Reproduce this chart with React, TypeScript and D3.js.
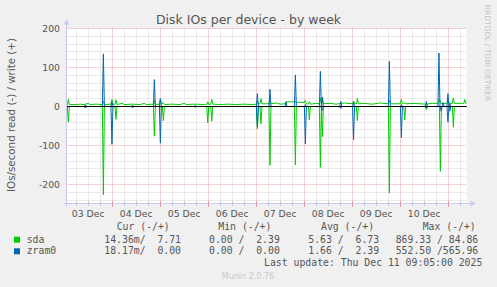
import React from "react";
import * as d3 from "d3";

const title = "Disk IOs per device - by week";
const yAxisTitle = "IOs/second read (-) / write (+)";
const sideText = "RRDTOOL / TOBI OETIKER";
const yTickValues = [-200, -100, 0, 100, 200];
const dayLabels = ["03 Dec", "04 Dec", "05 Dec", "06 Dec", "07 Dec", "08 Dec", "09 Dec", "10 Dec"];

// hours since Dec 3 00:00
const timeDomain = [1.17, 201.17];
const valueDomain = [-248.7, 200];

const sdaWrite: [number, number][] = [
  [1.2, 6], [1.6, 4], [2.1, 18], [2.6, 5], [6, 5], [8, 6], [10, 5], [12, 8], [13, 5], [16, 6], [19.1, 5], [19.6, 14], [20.1, 5],
  [23.4, 6], [23.9, 18], [24.4, 6], [25.4, 5], [25.9, 17], [26.4, 5], [29, 8], [30, 5], [34, 6], [38, 5], [40, 8], [41, 5],
  [44.6, 6], [45.1, 15], [45.6, 5], [47.6, 6], [48.1, 20], [48.6, 6], [49.6, 10], [50.1, 5], [54, 6], [58, 5], [60, 8], [61, 5],
  [65, 6], [70, 5], [71.3, 6], [71.8, 12], [72.3, 5], [73.3, 6], [73.8, 18], [74.3, 6], [78, 5], [82, 6], [86, 5], [90, 6], [94, 5],
  [96.1, 6], [96.6, 14], [97.1, 6], [97.9, 7], [98.4, 20], [98.9, 7], [102.4, 7], [102.9, 15], [103.4, 7], [106, 9], [108, 6],
  [110.4, 7], [110.9, 12], [115.1, 12], [115.6, 14], [116.1, 10], [118, 11], [120.1, 10], [120.6, 16], [121.1, 7], [122.1, 6],
  [122.6, 12], [123.1, 6], [126, 8], [127.6, 7], [128.1, 20], [128.6, 8], [129.1, 24], [129.6, 7], [133, 8], [136, 6], [140, 9],
  [144.2, 7], [144.7, 14], [145.2, 7], [146.1, 7], [146.6, 21], [147.1, 7], [150, 8], [154, 6], [158, 9], [162.1, 7], [162.6, 16],
  [163.1, 7], [168.1, 7], [168.6, 18], [169.1, 7], [169.8, 7], [170.3, 10], [170.8, 7], [175, 8], [178, 7], [181, 6], [184, 8],
  [186.9, 8], [187.4, 18], [187.9, 16], [188.4, 8], [191.4, 8], [191.9, 15], [192.4, 9], [194.1, 8], [194.6, 22], [195.1, 8],
  [198, 8], [199.8, 8], [200.3, 18], [200.8, 8], [201.2, 8],
];

const sdaRead: [number, number][] = [
  [1.2, 0], [1.6, 0], [2.1, 40], [2.6, 0], [19.1, 0], [19.6, 226], [20.1, 0], [25.4, 0], [25.9, 33], [26.4, 0], [44.6, 0],
  [45.1, 76], [45.6, 0], [49.1, 0], [49.6, 36], [50.1, 0], [71.3, 0], [71.8, 42], [72.3, 0], [73.3, 0], [73.8, 38], [74.3, 0],
  [96.1, 0], [96.6, 57], [97.1, 0], [97.9, 0], [98.4, 44], [98.9, 0], [102.4, 0], [102.9, 151], [103.4, 0], [115.1, 0],
  [115.6, 150], [116.1, 0], [122.1, 0], [122.6, 34], [123.1, 0], [127.6, 0], [128.1, 156], [128.6, 0], [129.1, 77], [129.6, 0],
  [146.1, 0], [146.6, 36], [147.1, 0], [162.1, 0], [162.6, 222], [163.1, 0], [169.8, 0], [170.3, 34], [170.8, 0], [180.6, 0],
  [181.1, 8], [181.6, 0], [187.6, 0], [188.1, 166], [188.6, 0], [194.1, 0], [194.6, 53], [195.1, 0], [201.2, 0],
];

const zramWrite: [number, number][] = [
  [1.2, 0], [10.1, 0], [10.6, 4], [11.1, 0], [19.1, 0], [19.6, 135], [20.1, 0], [23.4, 0], [23.9, 12], [24.4, 0], [33.8, 0],
  [34.3, 3], [34.8, 0], [44.6, 0], [45.1, 69], [45.6, 0], [47.6, 0], [48.1, 20], [48.6, 0], [64.9, 0], [65.4, 3], [65.9, 0],
  [96.1, 0], [96.6, 33], [97.1, 0], [102.4, 0], [102.9, 44], [103.4, 0], [110.4, 0], [110.9, 12], [111.4, 0], [115.1, 0],
  [115.6, 81], [116.1, 0], [120.1, 0], [120.6, 5], [121.1, 0], [127.6, 0], [128.1, 90], [128.6, 0], [129.1, 24], [129.6, 0],
  [137.8, 0], [138.3, 13], [138.8, 0], [144.2, 0], [144.7, 12], [145.2, 0], [162.1, 0], [162.6, 116], [163.1, 0], [168.1, 0],
  [168.6, 5], [169.1, 0], [180.6, 0], [181.1, 13], [181.6, 0], [186.9, 0], [187.4, 137], [187.9, 0], [189, 0], [189.5, 10],
  [190, 0], [191.4, 0], [191.9, 33], [192.4, 0], [192.8, 8], [193.3, 0], [201.2, 0],
];

const zramRead: [number, number][] = [
  [1.2, 0], [10.1, 0], [10.6, 4], [11.1, 0], [23.4, 0], [23.9, 97], [24.4, 0], [33.8, 0], [34.3, 3], [34.8, 0], [47.6, 0],
  [48.1, 94], [48.6, 0], [64.9, 0], [65.4, 2], [65.9, 0], [96.1, 0], [96.6, 51], [97.1, 0], [120.1, 0], [120.6, 96], [121.1, 0],
  [128.6, 0], [129.1, 10], [129.6, 0], [137.8, 0], [138.3, 5], [138.8, 0], [144.2, 0], [144.7, 85], [145.2, 0], [168.1, 0],
  [168.6, 80], [169.1, 0], [180.6, 0], [181.1, 4], [181.6, 0], [188, 0], [188.5, 12], [189, 0], [191.4, 0], [191.9, 40],
  [192.4, 0], [192.8, 12], [193.3, 0], [201.2, 0],
];

const legendNames = ["sda", "zram0"];
const legendColors = ["#00cc00", "#0066b3"];
const legendHeaders = ["Cur (-/+)", "Min (-/+)", "Avg (-/+)", "Max (-/+)"];
const legendCur = ["14.36m/  7.71", "18.17m/  0.00"];
const legendMin = ["0.00 /  2.39", "0.00 /  0.00"];
const legendAvg = ["5.63 /  6.73", "1.66 /  2.39"];
const legendMax = ["869.33 / 84.86", "552.50 /565.96"];
const lastUpdate = "Last update: Thu Dec 11 09:05:00 2025";
const version = "Munin 2.0.76";

export default function App() {
  const W = 497, H = 287;
  const left = 66.5, right = 466.5, top = 28.5, bottom = 203.5;
  const x = d3.scaleLinear().domain(timeDomain).range([left, right]);
  const y = d3.scaleLinear().domain(valueDomain).range([bottom, top]);
  const snap = (v: number) => Math.floor(v) + 0.5;

  const up = d3.line<[number, number]>().x((d) => x(d[0])).y((d) => y(d[1]));
  const down = d3.line<[number, number]>().x((d) => x(d[0])).y((d) => y(-d[1]));

  const minorH = d3.range(-240, 201, 20);
  const minorV = d3.range(6, 201, 6).filter((h) => h % 24 !== 0);
  const majorV = d3.range(24, 201, 24);

  const sans = "'DejaVu Sans', sans-serif";
  const mono = "'DejaVu Sans Mono', monospace";
  const txt = "#555";
  const axisCol = "#c8c8f0";

  const colX = [104.3, 209, 308.3, 395.7];
  const headX = [116.7, 218.3, 321, 422.7];
  const rowY = [242.7, 254.3];

  return (
    <svg width={W} height={H} style={{ position: "absolute", left: 0, top: 0 }} xmlns="http://www.w3.org/2000/svg">
      <rect x={0} y={0} width={W} height={H} fill="#f0f0f0" />
      <rect x={left} y={top} width={right - left} height={bottom - top} fill="#ffffff" />
      <defs>
        <clipPath id="plot">
          <rect x={left} y={top - 1} width={right - left + 1} height={bottom - top + 1} />
        </clipPath>
      </defs>
      {/* grid */}
      <g strokeWidth={1} strokeDasharray="1,1" fill="none">
        {minorH.filter((v) => v % 100 !== 0).map((v) => (
          <line key={"h" + v} x1={left} x2={right} y1={snap(y(v))} y2={snap(y(v))} stroke="#d6d6d6" />
        ))}
        {minorV.map((h) => (
          <line key={"v" + h} x1={snap(x(h))} x2={snap(x(h))} y1={top} y2={bottom} stroke="#d6d6d6" />
        ))}
        {yTickValues.map((v) => (
          <line key={"H" + v} x1={left} x2={right} y1={snap(y(v))} y2={snap(y(v))} stroke="#eaa4a4" />
        ))}
        {majorV.map((h) => (
          <line key={"V" + h} x1={snap(x(h))} x2={snap(x(h))} y1={top} y2={bottom} stroke="#eaa4a4" />
        ))}
      </g>
      {/* x ticks */}
      <g strokeWidth={1}>
        {minorV.map((h) => (
          <line key={"t" + h} x1={snap(x(h))} x2={snap(x(h))} y1={bottom - 2} y2={bottom + 2} stroke="#c0c0c0" />
        ))}
        {majorV.map((h) => (
          <line key={"T" + h} x1={snap(x(h))} x2={snap(x(h))} y1={bottom - 2} y2={bottom + 3} stroke="#e88080" />
        ))}
      </g>
      {/* data */}
      <g clipPath="url(#plot)" fill="none" strokeWidth={1}>
        <path d={down(sdaRead) || ""} stroke={legendColors[0]} />
        <path d={up(sdaWrite) || ""} stroke={legendColors[0]} />
        <path d={down(zramRead) || ""} stroke={legendColors[1]} />
        <path d={up(zramWrite) || ""} stroke={legendColors[1]} />
        <line x1={left} x2={right} y1={snap(y(0))} y2={snap(y(0))} stroke="#000" />
      </g>
      {/* axes */}
      <line x1={left} x2={left} y1={bottom + 3} y2={top - 6} stroke={axisCol} />
      <path d={`M${left - 3},${top - 4} L${left + 3},${top - 4} L${left},${top - 9} Z`} fill={axisCol} />
      <line x1={left - 3} x2={right + 4} y1={bottom} y2={bottom} stroke={axisCol} />
      <path d={`M${right + 4},${bottom - 3} L${right + 4},${bottom + 3} L${right + 9},${bottom} Z`} fill={axisCol} />
      {/* y labels */}
      {yTickValues.map((v) => (
        <text key={"yl" + v} x={60} y={y(v)} dy="0.35em" textAnchor="end" fontFamily={sans} fontSize={9.3} fill={txt}>
          {v}
        </text>
      ))}
      {/* x labels */}
      {dayLabels.map((l, i) => (
        <text key={l} x={x(12 + 24 * i)} y={216.5} textAnchor="middle" fontFamily={sans} fontSize={9.3} fill={txt}>
          {l}
        </text>
      ))}
      {/* title */}
      <text x={248.5} y={24} textAnchor="middle" fontFamily={sans} fontSize={12.5} fill={txt}>
        {title}
      </text>
      <text transform={`translate(14.5,115) rotate(-90)`} textAnchor="middle" fontFamily={sans} fontSize={10.3} fill={txt}>
        {yAxisTitle}
      </text>
      <text transform={`translate(485,53) rotate(90)`} textAnchor="middle" fontFamily={sans} fontSize={7.5} fill="#c4c4c4">
        {sideText}
      </text>
      {/* legend */}
      <g fontFamily={mono} fontSize={9.8} fill={txt} style={{ whiteSpace: "pre" }}>
        {legendHeaders.map((h, i) => (
          <text key={h} x={headX[i]} y={229.5} xmlSpace="preserve">{h}</text>
        ))}
        {legendNames.map((n, r) => (
          <g key={n}>
            <rect x={14} y={rowY[r] - 6} width={6} height={6} fill={legendColors[r]} />
            <text x={26.7} y={rowY[r]} xmlSpace="preserve">{n}</text>
            <text x={colX[0]} y={rowY[r]} xmlSpace="preserve">{legendCur[r]}</text>
            <text x={colX[1]} y={rowY[r]} xmlSpace="preserve">{legendMin[r]}</text>
            <text x={colX[2]} y={rowY[r]} xmlSpace="preserve">{legendAvg[r]}</text>
            <text x={colX[3]} y={rowY[r]} xmlSpace="preserve">{legendMax[r]}</text>
          </g>
        ))}
        <text x={482.3} y={266} textAnchor="end" xmlSpace="preserve">{lastUpdate}</text>
      </g>
      <text x={248} y={279} textAnchor="middle" fontFamily={sans} fontSize={8} fill="#c8c8c8">
        {version}
      </text>
    </svg>
  );
}
